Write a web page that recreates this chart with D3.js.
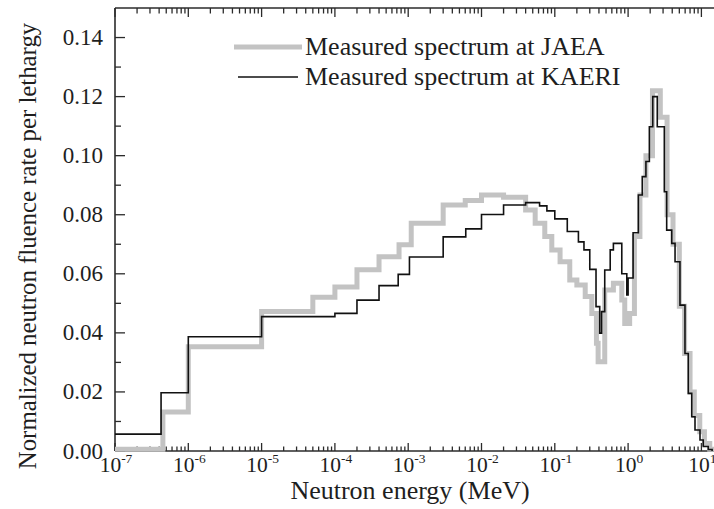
<!DOCTYPE html>
<html>
<head>
<meta charset="utf-8">
<script src="https://cdn.jsdelivr.net/npm/d3@7"></script>
<style>
  html, body { margin: 0; padding: 0; background: #fff; }
  svg { display: block; }
  text { font-family: "Liberation Serif", "Times New Roman", serif; fill: #1e1e1e; }
</style>
</head>
<body>
<svg id="chart" width="714" height="509"></svg>
<script>
// ---- Data (bin edges in MeV, values = normalized fluence per lethargy) ----
const kaeriEdges = [1e-7, 4.25e-7, 1e-6, 1e-5, 1e-4, 2e-4, 4e-4, 7.3e-4, 1.04e-3, 3e-3, 6.1e-3, 1e-2, 2e-2, 4e-2, 6.2e-2, 7.8e-2, 0.1, 0.148, 0.21, 0.25, 0.30, 0.365, 0.41, 0.435, 0.48, 0.57, 0.63, 0.82, 0.96, 1.0, 1.17, 1.38, 1.56, 1.75, 1.95, 2.17, 2.5, 3.12, 3.36, 3.94, 4.37, 5.1, 5.97, 6.62, 7.38, 8.18, 9.57, 10.6, 12.4, 14];
const kaeriValues = [0.0057, 0.0197, 0.0387, 0.0455, 0.0466, 0.0511, 0.0560, 0.0598, 0.0657, 0.0725, 0.0752, 0.0801, 0.0833, 0.0841, 0.0830, 0.0813, 0.0786, 0.0743, 0.0708, 0.0681, 0.0615, 0.0489, 0.0399, 0.0472, 0.0613, 0.0681, 0.0703, 0.0600, 0.0528, 0.0586, 0.0739, 0.0867, 0.0929, 0.0980, 0.1098, 0.1200, 0.1098, 0.0878, 0.0748, 0.0703, 0.0641, 0.0494, 0.0330, 0.0195, 0.0116, 0.0071, 0.0037, 0.0015, 0.0005];

const jaeaEdges = [1e-7, 4.5e-7, 1e-6, 1e-5, 5e-5, 1e-4, 2e-4, 4e-4, 7.5e-4, 1.1e-3, 3e-3, 6e-3, 1e-2, 2e-2, 4e-2, 5.4e-2, 7.3e-2, 9.1e-2, 0.118, 0.16, 0.2, 0.26, 0.32, 0.37, 0.39, 0.48, 0.63, 0.82, 0.9, 1.05, 1.22, 1.45, 1.75, 2.15, 2.75, 3.4, 4.1, 5.0, 5.9, 7.0, 8.0, 9.5, 11, 13, 15];
const jaeaValues = [0.0006, 0.0132, 0.0353, 0.0472, 0.0521, 0.0555, 0.0614, 0.0658, 0.0698, 0.0771, 0.0833, 0.0848, 0.0867, 0.0859, 0.0816, 0.0771, 0.0726, 0.0681, 0.0641, 0.0579, 0.0562, 0.0523, 0.0466, 0.0365, 0.0302, 0.0545, 0.0568, 0.0511, 0.0432, 0.0466, 0.0726, 0.0867, 0.1000, 0.1220, 0.1130, 0.0800, 0.0700, 0.0490, 0.0330, 0.0200, 0.0120, 0.0065, 0.0025, 0.0006];

const yTickValues = [0, 0.02, 0.04, 0.06, 0.08, 0.10, 0.12, 0.14];
const yMinorValues = [0.01, 0.03, 0.05, 0.07, 0.09, 0.11, 0.13];
const xTickExponents = [-7, -6, -5, -4, -3, -2, -1, 0, 1];
const legendLabels = ["Measured spectrum at JAEA", "Measured spectrum at KAERI"];
const xTitle = "Neutron energy (MeV)";
const yTitle = "Normalized neutron fluence rate per lethargy";

// ---- Layout ----
const svg = d3.select("#chart");
const pLeft = 115, pTop = 8, pBottom = 451, pRight = 720;
const x = d3.scaleLog().domain([1e-7, 1e1]).range([pLeft, 701.4]);
const y = d3.scaleLinear().domain([0, 0.15]).range([pBottom, pTop]);
const frameColor = "#2b2b2b";

function stepPoints(edges, values) {
  const pts = values.map((v, i) => [edges[i], v]);
  pts.push([edges[edges.length - 1], 0]);
  return pts;
}
const line = d3.line().x(d => x(d[0])).y(d => y(d[1])).curve(d3.curveStepAfter);

// ---- Frame ----
const frame = svg.append("g");
frame.append("line").attr("x1", pLeft).attr("x2", pLeft).attr("y1", pTop).attr("y2", pBottom);
frame.append("line").attr("x1", pLeft).attr("x2", pRight).attr("y1", pTop).attr("y2", pTop);
frame.append("line").attr("x1", pLeft).attr("x2", pRight).attr("y1", pBottom).attr("y2", pBottom);
frame.selectAll("line").attr("stroke", frameColor).attr("stroke-width", 1.6);

// ---- X ticks (log, inward, bottom & top) ----
const xMajor = xTickExponents.map(e => Math.pow(10, e));
const xMinor = [];
xTickExponents.slice(0, -1).forEach(e => { for (let k = 2; k <= 9; k++) xMinor.push(k * Math.pow(10, e)); });
const ticksG = svg.append("g").attr("stroke", frameColor).attr("stroke-width", 1.3);
xMajor.forEach(v => {
  ticksG.append("line").attr("x1", x(v)).attr("x2", x(v)).attr("y1", pBottom).attr("y2", pBottom - 8);
  ticksG.append("line").attr("x1", x(v)).attr("x2", x(v)).attr("y1", pTop).attr("y2", pTop + 9);
});
xMinor.forEach(v => {
  ticksG.append("line").attr("x1", x(v)).attr("x2", x(v)).attr("y1", pBottom).attr("y2", pBottom - 4.5);
  ticksG.append("line").attr("x1", x(v)).attr("x2", x(v)).attr("y1", pTop).attr("y2", pTop + 5.5);
});
// ---- Y ticks (inward) ----
yTickValues.forEach(v => {
  ticksG.append("line").attr("x1", pLeft).attr("x2", pLeft + 10).attr("y1", y(v)).attr("y2", y(v));
});
yMinorValues.forEach(v => {
  ticksG.append("line").attr("x1", pLeft).attr("x2", pLeft + 6).attr("y1", y(v)).attr("y2", y(v));
});

// ---- Tick labels ----
svg.append("g").selectAll("text").data(yTickValues).join("text")
  .attr("x", 103).attr("y", d => y(d) + 7.5)
  .attr("text-anchor", "end").attr("font-size", 23)
  .text(d => d3.format(".2f")(d));

const xl = svg.append("g").selectAll("text").data(xTickExponents).join("text")
  .attr("x", d => x(Math.pow(10, d)) + 1).attr("y", 472)
  .attr("text-anchor", "middle").attr("font-size", 21.5);
xl.append("tspan").text("10");
xl.append("tspan").attr("dy", -9).attr("font-size", 13.5).text(d => String(d));

// ---- Axis titles ----
svg.append("text").attr("x", 410).attr("y", 499).attr("text-anchor", "middle")
  .attr("font-size", 26).text(xTitle);
svg.append("text").attr("transform", "translate(36,246) rotate(-90)")
  .attr("text-anchor", "middle").attr("font-size", 24.8).text(yTitle);

// ---- Series ----
svg.append("path").datum(stepPoints(jaeaEdges, jaeaValues))
  .attr("d", line).attr("fill", "none").attr("stroke", "#c3c3c3").attr("stroke-width", 5)
  .attr("stroke-linejoin", "miter");
svg.append("path").datum(stepPoints(kaeriEdges, kaeriValues))
  .attr("d", line).attr("fill", "none").attr("stroke", "#111").attr("stroke-width", 1.6);

// ---- Legend ----
const lg = svg.append("g");
lg.append("line").attr("x1", 234).attr("x2", 302).attr("y1", 47).attr("y2", 47)
  .attr("stroke", "#c3c3c3").attr("stroke-width", 5);
lg.append("line").attr("x1", 238).attr("x2", 298).attr("y1", 77).attr("y2", 77)
  .attr("stroke", "#111").attr("stroke-width", 1.6);
lg.selectAll("text").data(legendLabels).join("text")
  .attr("x", 305).attr("y", (d, i) => 55 + i * 29.5)
  .attr("font-size", 26).text(d => d);
</script>
</body>
</html>
